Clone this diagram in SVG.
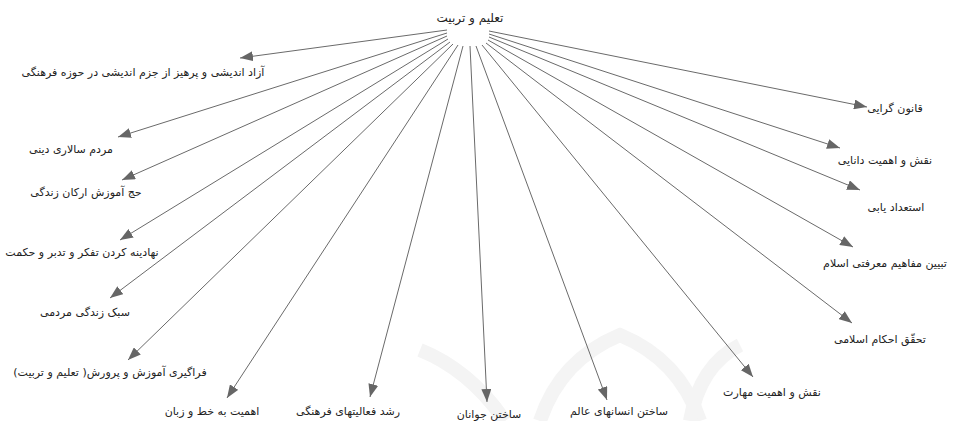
<svg xmlns="http://www.w3.org/2000/svg" width="956" height="421" viewBox="0 0 956 421">
<style>
text{font-family:"DejaVu Sans","Noto Sans",sans-serif;font-size:11px;fill:#222;text-anchor:middle}
.title{font-size:12px}
.c line{stroke:#6a6a6a;stroke-width:1;marker-end:url(#ah)}
.wm{fill:none;stroke:#f4f4f4;stroke-width:14}
</style>
<defs>
<marker id="ah" markerUnits="userSpaceOnUse" markerWidth="14" markerHeight="10" refX="13" refY="5" orient="auto">
<path d="M0,0 L13,5 L0,10 Z" fill="#666"/>
</marker>
</defs>
<rect width="956" height="421" fill="#fff"/>
<g id="watermark">
<path class="wm" d="M420,350 Q470,370 505,421"/>
<path class="wm" d="M540,421 Q560,360 620,335 Q680,360 700,421"/>
<path class="wm" d="M740,345 Q700,365 690,421"/>
</g>
<g id="root"><text class="title" x="470" y="22">تعلیم و تربیت</text></g>
<g class="c" id="connectors">
<line x1="447" y1="30" x2="240" y2="58"/>
<line x1="447" y1="33" x2="118" y2="137"/>
<line x1="447" y1="36" x2="122" y2="180"/>
<line x1="448" y1="39" x2="120" y2="240"/>
<line x1="450" y1="42" x2="110" y2="298"/>
<line x1="453" y1="44" x2="128" y2="360"/>
<line x1="458" y1="45" x2="227" y2="398"/>
<line x1="463" y1="46" x2="370" y2="397"/>
<line x1="470" y1="46" x2="487" y2="402"/>
<line x1="476" y1="46" x2="607" y2="400"/>
<line x1="482" y1="45" x2="753" y2="377"/>
<line x1="486" y1="43" x2="852" y2="323"/>
<line x1="488" y1="40" x2="853" y2="247"/>
<line x1="489" y1="37" x2="860" y2="190"/>
<line x1="489" y1="34" x2="840" y2="148"/>
<line x1="489" y1="31" x2="867" y2="107"/>
</g>
<g id="n1"><text x="143" y="76">آزاد اندیشی و پرهیز از جزم اندیشی  در حوزه فرهنگی</text></g>
<g id="n2"><text x="71" y="153">مردم سالاری دینی</text></g>
<g id="n3"><text x="86" y="196">حج آموزش ارکان زندگی</text></g>
<g id="n4"><text x="82" y="256">نهادینه کردن تفکر و تدبر و حکمت</text></g>
<g id="n5"><text x="85" y="316">سبک زندگی مردمی</text></g>
<g id="n6"><text x="110" y="376">فراگیری آموزش و پرورش( تعلیم و تربیت)</text></g>
<g id="n7"><text x="212" y="415">اهمیت به خط و زبان</text></g>
<g id="n8"><text x="348" y="415">رشد فعالیتهای فرهنگی</text></g>
<g id="n9"><text x="489" y="418">ساختن جوانان</text></g>
<g id="n10"><text x="619" y="415">ساختن انسانهای عالم</text></g>
<g id="n11"><text x="772" y="396">نقش  و اهمیت مهارت</text></g>
<g id="n12"><text x="880" y="343">تحقّق احکام اسلامی</text></g>
<g id="n13"><text x="885" y="267">تبیین مفاهیم معرفتی اسلام</text></g>
<g id="n14"><text x="896" y="211">استعداد یابی</text></g>
<g id="n15"><text x="885" y="164">نقش و اهمیت دانایی</text></g>
<g id="n16"><text x="895" y="112">قانون گرایی</text></g>
</svg>
